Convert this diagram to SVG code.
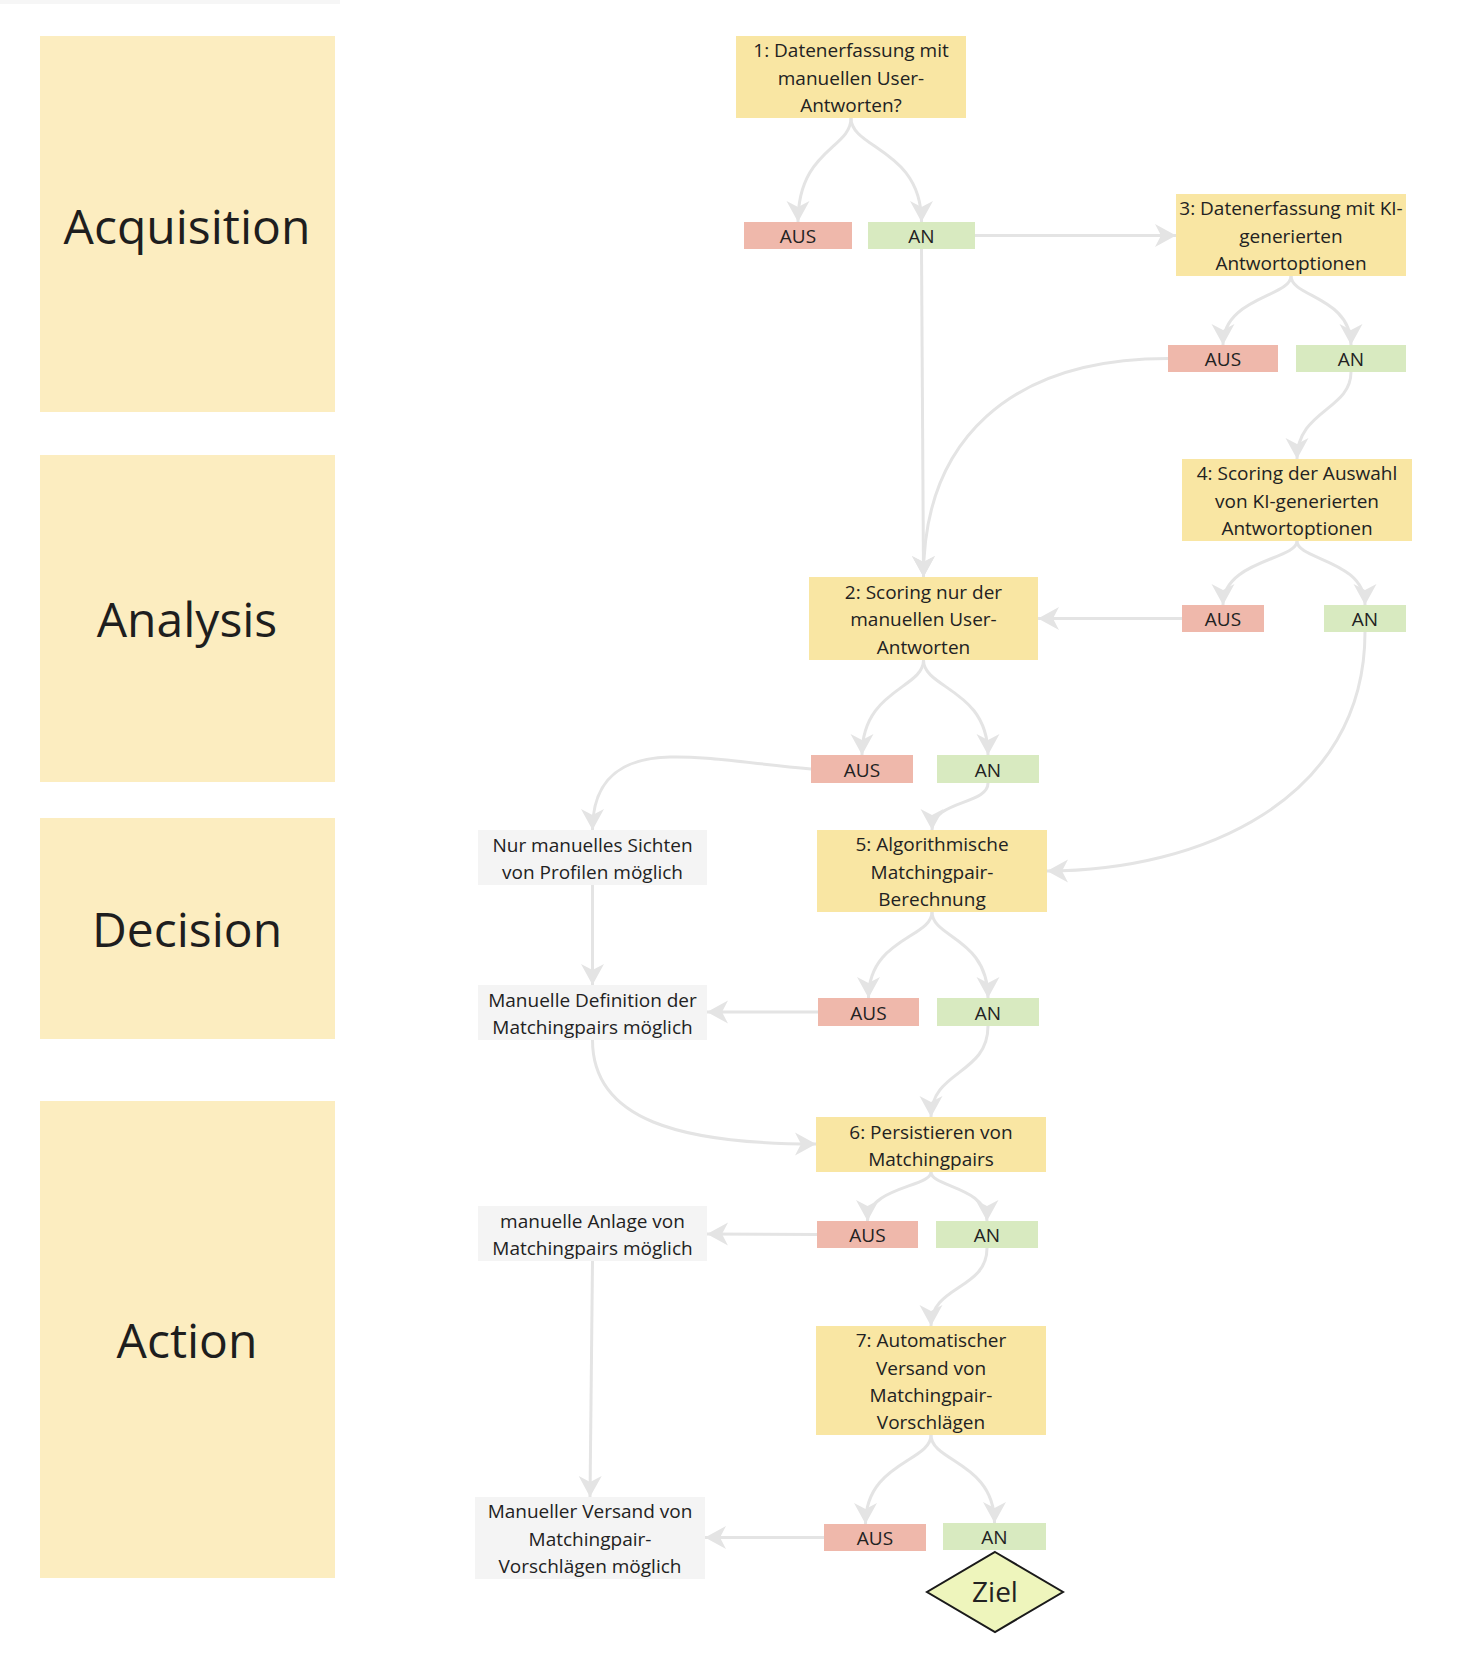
<svg xmlns="http://www.w3.org/2000/svg" width="1464" height="1654" viewBox="0 0 1464 1654">
<defs>
<style>
.lane{fill:#fcedc0}
.lane-t{font-family:"Open Sans","Noto Sans",sans-serif;font-size:48px;fill:#1e1e1e;text-anchor:middle}
.box{fill:#f9e6a3}
.grey{fill:#f4f4f4}
.aus{fill:#efb8ab}
.an{fill:#d8eac0}
.t{font-family:"Open Sans","Noto Sans",sans-serif;font-size:19px;fill:#222222;text-anchor:middle}
.c{fill:none;stroke:#e4e4e4;stroke-width:3;marker-end:url(#arr)}
.ziel{fill:#eef5bc;stroke:#1a1a1a;stroke-width:2}
.zt{font-family:"Open Sans","Noto Sans",sans-serif;font-size:28px;fill:#222222;text-anchor:middle}
</style>
<marker id="arr" viewBox="-23 -13 25 26" refX="0" refY="0" markerWidth="25" markerHeight="26" markerUnits="userSpaceOnUse" orient="auto">
<path d="M0,0 L-21,-11.5 L-15,0 L-21,11.5 Z" fill="#e4e4e4"/>
</marker>
</defs>
<rect width="1464" height="1654" fill="#ffffff"/>
<rect x="0" y="0" width="340" height="4" fill="#f6f6f6"/>

<g id="lane-acquisition"><rect class="lane" x="40" y="36" width="295" height="376"/><text class="lane-t" x="187" y="244">Acquisition</text></g>
<g id="lane-analysis"><rect class="lane" x="40" y="455" width="295" height="327"/><text class="lane-t" x="187" y="637">Analysis</text></g>
<g id="lane-decision"><rect class="lane" x="40" y="818" width="295" height="221"/><text class="lane-t" x="187" y="947">Decision</text></g>
<g id="lane-action"><rect class="lane" x="40" y="1101" width="295" height="477"/><text class="lane-t" x="187" y="1358">Action</text></g>

<g id="connectors">
<path class="c" d="M851,118 C851,149 798,149 798,222"/>
<path class="c" d="M851,118 C851,149 921.5,149 921.5,222"/>
<path class="c" d="M975,235.5 L1176,235.5"/>
<path class="c" d="M921.5,249 L923.5,577"/>
<path class="c" d="M1291,276 C1291,297 1223,297 1223,345"/>
<path class="c" d="M1291,276 C1291,297 1351,297 1351,345"/>
<path class="c" d="M1168,358.5 C1010,358.5 923.5,440 923.5,577"/>
<path class="c" d="M1351,372 C1351,410 1297,410 1297,459"/>
<path class="c" d="M1297,541 C1297,560 1223,560 1223,605"/>
<path class="c" d="M1297,541 C1297,560 1365,560 1365,605"/>
<path class="c" d="M1182,618.5 L1038,618.5"/>
<path class="c" d="M1365,632 C1365,800 1200,871 1047,871"/>
<path class="c" d="M923.5,660 C923.5,689 862,689 862,755"/>
<path class="c" d="M923.5,660 C923.5,689 988,689 988,755"/>
<path class="c" d="M811,769 C740,762 700,756 670,757 C620,758 592.5,780 592.5,830"/>
<path class="c" d="M988,783 C988,805 932,800 932,830"/>
<path class="c" d="M592.5,885 L592.5,985"/>
<path class="c" d="M932,912 C932,938 868.5,938 868.5,998"/>
<path class="c" d="M932,912 C932,938 988,938 988,998"/>
<path class="c" d="M818,1012 L707,1012"/>
<path class="c" d="M988,1026 C988,1075 931,1070 931,1117"/>
<path class="c" d="M592.5,1040 C592.5,1120 680,1144 816,1144"/>
<path class="c" d="M931,1172 C931,1187 867.5,1187 867.5,1221"/>
<path class="c" d="M931,1172 C931,1187 987,1187 987,1221"/>
<path class="c" d="M817,1234.5 L707,1234"/>
<path class="c" d="M987,1248 C987,1290 931,1285 931,1326"/>
<path class="c" d="M592.5,1261 L590,1497"/>
<path class="c" d="M931,1435 C931,1462 865.5,1462 865.5,1524"/>
<path class="c" d="M931,1435 C931,1462 994.5,1462 994.5,1523"/>
<path class="c" d="M824,1537.5 L705,1537.5"/>
</g>

<g id="n1"><rect class="box" x="736" y="36" width="230" height="82"/><text class="t"><tspan x="851" y="57.3">1: Datenerfassung mit</tspan><tspan x="851" y="84.7">manuellen User-</tspan><tspan x="851" y="112.1">Antworten?</tspan></text></g>
<g id="n1-aus"><rect class="aus" x="744" y="222" width="108" height="27"/><text class="t" x="798" y="243.2">AUS</text></g>
<g id="n1-an"><rect class="an" x="868" y="222" width="107" height="27"/><text class="t" x="921.5" y="243.2">AN</text></g>

<g id="n3"><rect class="box" x="1176" y="194" width="230" height="82"/><text class="t"><tspan x="1291" y="215.3">3: Datenerfassung mit KI-</tspan><tspan x="1291" y="242.7">generierten</tspan><tspan x="1291" y="270.1">Antwortoptionen</tspan></text></g>
<g id="n3-aus"><rect class="aus" x="1168" y="345" width="110" height="27"/><text class="t" x="1223" y="366.2">AUS</text></g>
<g id="n3-an"><rect class="an" x="1296" y="345" width="110" height="27"/><text class="t" x="1351" y="366.2">AN</text></g>

<g id="n4"><rect class="box" x="1182" y="459" width="230" height="82"/><text class="t"><tspan x="1297" y="480.3">4: Scoring der Auswahl</tspan><tspan x="1297" y="507.7">von KI-generierten</tspan><tspan x="1297" y="535.1">Antwortoptionen</tspan></text></g>
<g id="n4-aus"><rect class="aus" x="1182" y="605" width="82" height="27"/><text class="t" x="1223" y="626.2">AUS</text></g>
<g id="n4-an"><rect class="an" x="1324" y="605" width="82" height="27"/><text class="t" x="1365" y="626.2">AN</text></g>

<g id="n2"><rect class="box" x="809" y="577" width="229" height="83"/><text class="t"><tspan x="923.5" y="598.8">2: Scoring nur der</tspan><tspan x="923.5" y="626.2">manuellen User-</tspan><tspan x="923.5" y="653.6">Antworten</tspan></text></g>
<g id="n2-aus"><rect class="aus" x="811" y="755" width="102" height="28"/><text class="t" x="862" y="776.7">AUS</text></g>
<g id="n2-an"><rect class="an" x="937" y="755" width="102" height="28"/><text class="t" x="988" y="776.7">AN</text></g>

<g id="nur"><rect class="grey" x="478" y="830" width="229" height="55"/><text class="t"><tspan x="592.5" y="851.5">Nur manuelles Sichten</tspan><tspan x="592.5" y="878.9">von Profilen möglich</tspan></text></g>

<g id="n5"><rect class="box" x="817" y="830" width="230" height="82"/><text class="t"><tspan x="932" y="851.3">5: Algorithmische</tspan><tspan x="932" y="878.7">Matchingpair-</tspan><tspan x="932" y="906.1">Berechnung</tspan></text></g>
<g id="n5-aus"><rect class="aus" x="818" y="998" width="101" height="28"/><text class="t" x="868.5" y="1019.7">AUS</text></g>
<g id="n5-an"><rect class="an" x="937" y="998" width="102" height="28"/><text class="t" x="988" y="1019.7">AN</text></g>

<g id="mandef"><rect class="grey" x="478" y="985" width="229" height="55"/><text class="t"><tspan x="592.5" y="1006.5">Manuelle Definition der</tspan><tspan x="592.5" y="1033.9">Matchingpairs möglich</tspan></text></g>

<g id="n6"><rect class="box" x="816" y="1117" width="230" height="55"/><text class="t"><tspan x="931" y="1138.5">6: Persistieren von</tspan><tspan x="931" y="1165.9">Matchingpairs</tspan></text></g>
<g id="n6-aus"><rect class="aus" x="817" y="1221" width="101" height="27"/><text class="t" x="867.5" y="1242.2">AUS</text></g>
<g id="n6-an"><rect class="an" x="936" y="1221" width="102" height="27"/><text class="t" x="987" y="1242.2">AN</text></g>

<g id="manan"><rect class="grey" x="478" y="1206" width="229" height="55"/><text class="t"><tspan x="592.5" y="1227.5">manuelle Anlage von</tspan><tspan x="592.5" y="1254.9">Matchingpairs möglich</tspan></text></g>

<g id="n7"><rect class="box" x="816" y="1326" width="230" height="109"/><text class="t"><tspan x="931" y="1347.1">7: Automatischer</tspan><tspan x="931" y="1374.5">Versand von</tspan><tspan x="931" y="1401.9">Matchingpair-</tspan><tspan x="931" y="1429.3">Vorschlägen</tspan></text></g>

<g id="manver"><rect class="grey" x="475" y="1497" width="230" height="82"/><text class="t"><tspan x="590" y="1518.3">Manueller Versand von</tspan><tspan x="590" y="1545.7">Matchingpair-</tspan><tspan x="590" y="1573.1">Vorschlägen möglich</tspan></text></g>
<g id="n7-aus"><rect class="aus" x="824" y="1524" width="102" height="27"/><text class="t" x="875" y="1545.2">AUS</text></g>
<g id="n7-an"><rect class="an" x="943" y="1523" width="103" height="27"/><text class="t" x="994.5" y="1544.2">AN</text></g>

<g id="ziel"><polygon class="ziel" points="995,1552 1063,1592 995,1632 927,1592"/><text class="zt" x="995" y="1602">Ziel</text></g>
</svg>
